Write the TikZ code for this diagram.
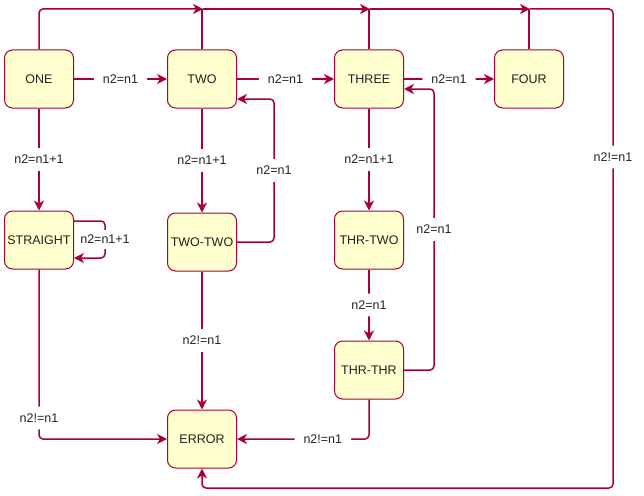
\documentclass[tikz,border=0pt]{standalone}
\usepackage{fontspec}
\setmainfont{Liberation Sans}
\usetikzlibrary{arrows.meta}
\definecolor{umlred}{HTML}{A80036}
\definecolor{umlfill}{HTML}{FEFECE}
\definecolor{umltext}{HTML}{222222}
\tikzset{
    state/.style={draw=umlred, fill=umlfill, line width=1pt, rounded corners=8pt,
        minimum width=69pt, minimum height=58pt, inner sep=2pt, text=umltext,
        font=\fontsize{12.5}{15}\selectfont},
    line/.style={draw=umlred, line width=1.5pt, rounded corners=4pt},
    edge/.style={line, -{Stealth[length=10pt,width=10pt,inset=3pt]}},
    lbl/.style={fill=white, text=umltext, inner xsep=9pt, inner ysep=7pt,
        font=\fontsize{12.5}{15}\selectfont}
}
\begin{document}
\begin{tikzpicture}[x=1pt,y=-1pt]
    \useasboundingbox (0,0) rectangle (644,495);
    % States.
        \node[state] (one) at (39,79) {ONE};
        \node[state] (two) at (202,79) {TWO};
        \node[state] (three) at (369,79) {THREE};
        \node[state] (four) at (529,79) {FOUR};
        \node[state] (straight) at (39,240) {STRAIGHT};
        \node[state] (twotwo) at (202,242) {TWO-TWO};
        \node[state] (thrtwo) at (369,240) {THR-TWO};
        \node[state] (thrthr) at (369,370) {THR-THR};
        \node[state] (error) at (202,439) {ERROR};
    % Top row and downward transitions.
        \draw[edge] (one) -- node[lbl] {n2=n1} (two);
        \draw[edge] (two) -- node[lbl] {n2=n1} (three);
        \draw[edge] (three) -- node[lbl] {n2=n1} (four);
        \draw[edge] (one) -- node[lbl] {n2=n1+1} (straight);
        \draw[edge] (two) -- node[lbl] {n2=n1+1} (twotwo);
        \draw[edge] (three) -- node[lbl] {n2=n1+1} (thrtwo);
        \draw[edge] (thrtwo) -- node[lbl] {n2=n1} (thrthr);
        \draw[edge] (twotwo) -- node[lbl] {n2!=n1} (error);
    % Loops back.
        \draw[edge] ([yshift=19pt]straight.east) -- ++(31,0)
            -- node[lbl, inner xsep=2pt, inner ysep=5pt] {n2=n1+1} ++(0,37)
            -- ([yshift=-18pt]straight.east);
        \draw[edge] (twotwo.east) -- (274,242) -- node[lbl] {n2=n1} (274,99)
            -- ([yshift=-20pt]two.east);
        \draw[edge] (thrthr.east) -- (434,370) -- node[lbl] {n2=n1} (434,89)
            -- ([yshift=-10pt]three.east);
    % Into ERROR.
        \draw[edge] (straight.south) -- node[lbl, pos=0.876] {n2!=n1} (39,439) -- (error.west);
        \draw[edge] (thrthr.south) -- (369,439) -- node[lbl, pos=0.35] {n2!=n1} (error.east);
    % The bus along the top.
        \coordinate (j2) at (203,9);
        \coordinate (j3) at (370,9);
        \coordinate (j4) at (530,9);
        \draw[edge] (one.north) -- (39,9) -- (j2);
        \draw[line] (two.north) -- (two.north |- j2);
        \draw[edge] (j2) -- (j3);
        \draw[line] (three.north) -- (three.north |- j3);
        \draw[edge] (j3) -- (j4);
        \draw[line] (four.north) -- (four.north |- j4);
        \draw[edge] (j4) -- (613,9) -- node[lbl, pos=0.309] {n2!=n1} (613,488) -- (202,488)
            -- (error.south);
\end{tikzpicture}
\end{document}
